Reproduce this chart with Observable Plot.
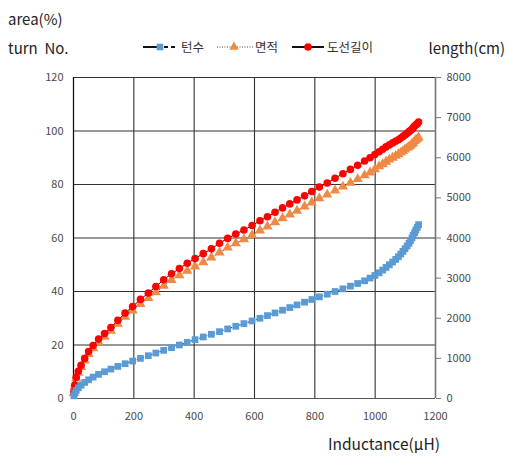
<!DOCTYPE html>
<html><head><meta charset="utf-8">
<script src="https://cdn.jsdelivr.net/npm/d3@7"></script>
<script src="https://cdn.jsdelivr.net/npm/@observablehq/plot@0.6"></script>
<style>
body{margin:0;background:#fff;}
#wrap{position:relative;width:509px;height:457px;overflow:hidden;background:#fff}
#wrap svg{position:absolute;left:0;top:0}
</style></head><body>
<div id="wrap"></div>
<script>
// ---- data ----
const turns = [1,2,3,4,5,6,7,8,9,10,11,12,13,14,15,16,17,18,19,20,21,22,23,24,25,26,27,28,29,30,31,32,33,34,35,36,37,38,39,40,41,42,43,44,45,46,47,48,49,50,51,52,53,54,55,56,57,58,59,60,61,62,63,64,65];
const inductance = [1,4,9,16,25,37,50,65,83,103,124,147,171,196,222,248,273,299,325,351,377,403,430,457,484,511,538,565,592,618,643,668,693,717,741,766,790,815,841,867,893,918,942,965,983,999,1013,1025,1036,1047,1058,1068,1077,1085,1092,1099,1106,1112,1117,1122,1126,1131,1135,1140,1144];
const areaPct = [2.0,4.6,7.5,9.6,11.8,14.2,16.6,18.8,21.1,23.1,25.3,27.9,30.5,32.9,35.3,37.6,39.7,42.1,44.3,46.1,47.7,49.3,50.9,52.7,54.6,56.4,58,59.5,61.1,62.8,64.3,65.9,67.4,68.8,70.2,71.8,73.3,74.8,76.2,77.7,79.2,80.6,82,83.4,84.5,85.7,86.8,87.6,88.5,89.3,90,90.7,91.3,91.9,92.5,93.1,93.7,94.1,94.6,95.1,95.6,96.2,96.7,97.1,97.6];
const lengthCm = [170,330,530,680,830,1000,1170,1320,1480,1620,1770,1950,2130,2290,2470,2630,2790,2960,3110,3240,3370,3490,3610,3730,3870,3990,4100,4200,4310,4430,4530,4640,4750,4850,4950,5050,5160,5270,5370,5490,5600,5710,5810,5920,6000,6080,6150,6210,6270,6320,6370,6410,6450,6490,6530,6570,6610,6650,6680,6710,6750,6790,6820,6850,6890];

const xTicks = [0,200,400,600,800,1000,1200];
const yTicksLeft = [0,20,40,60,80,100,120];
const yTicksRight = [0,1000,2000,3000,4000,5000,6000,7000,8000];
const seriesNames = ["턴수","면적","도선길이"];
const leftMax = 120, rightMax = 8000;

const rows = turns.map((t,i)=>({L:inductance[i], turn:t, area:areaPct[i], len:lengthCm[i]}));
const toLeft = v => v*leftMax/rightMax;

const FONT = '"Noto Sans CJK KR","Noto Sans",sans-serif';
const C_BLUE="#5B9BD5", C_ORANGE="#EF8A45", C_RED="#FF0000";

const plot = Plot.plot({
  width:509, height:457,
  marginLeft:73, marginRight:74, marginTop:77, marginBottom:59,
  style:{fontFamily:FONT, fontSize:"11px", color:"#595959", background:"#fff"},
  x:{domain:[0,1200]},
  y:{domain:[0,leftMax]},
  marks:[
    Plot.gridX(xTicks,{stroke:"#333",strokeOpacity:1,strokeWidth:1.1}),
    Plot.gridY(yTicksLeft,{stroke:"#333",strokeOpacity:1,strokeWidth:1.1}),
    Plot.ruleX([1200],{stroke:"#777",strokeWidth:1.5}),
    Plot.ruleX([0],{stroke:"#111",strokeWidth:1.2}),
    Plot.ruleY([0],{stroke:"#555",strokeWidth:1.2}),
    Plot.axisX(xTicks,{tickSize:0,tickPadding:14,label:null,fill:"#4a4a4a",fontSize:11,tickFormat:d=>String(d)}),
    Plot.axisY(yTicksLeft,{anchor:"left",tickSize:0,tickPadding:10,label:null,fill:"#4a4a4a",fontSize:11,tickFormat:d=>String(d)}),
    Plot.axisY(yTicksRight.map(toLeft),{anchor:"right",tickSize:5,tickPadding:6,stroke:"#777",label:null,fill:"#4a4a4a",fontSize:11,
      tickFormat:d=>String(Math.round(d*rightMax/leftMax))}),
    // 면적 (area %)
    Plot.line(rows,{x:"L",y:"area",stroke:"#333",strokeWidth:1,strokeDasharray:"1,2"}),
    Plot.dot(rows,{x:"L",y:"area",symbol:"triangle",r:3.8,fill:C_ORANGE,stroke:"none"}),
    // 도선길이 (length cm, right axis)
    Plot.line(rows,{x:"L",y:d=>toLeft(d.len),stroke:"#111",strokeWidth:1}),
    Plot.dot(rows,{x:"L",y:d=>toLeft(d.len),symbol:"circle",r:3.8,fill:C_RED,stroke:"none"}),
    // 턴수 (turn No.)
    Plot.line(rows,{x:"L",y:"turn",stroke:"#222",strokeWidth:1,strokeDasharray:"1,2"}),
    Plot.dot(rows,{x:"L",y:"turn",symbol:"square",r:3.8,fill:C_BLUE,stroke:"none"})
  ]
});
const wrap = document.getElementById("wrap");
wrap.appendChild(plot);

// titles & legend overlay
const ov = d3.select(wrap).append("svg").attr("width",509).attr("height",457)
  .style("font-family",FONT).style("pointer-events","none");
const T = (x,y,s,size,anchor="start")=>ov.append("text").attr("x",x).attr("y",y).attr("font-size",size)
  .attr("fill","#222").attr("text-anchor",anchor).style("white-space","pre").text(s);
T(8,25,"area(%)",15);
T(8,54,"turn  No.",15);
T(505,54,"length(cm)",15,"end");
T(440,450,"Inductance(\u00b5H)",15.5,"end");

// legend
const ly = 47;
const lg = ov.append("g");
// 턴수
lg.append("line").attr("x1",143).attr("x2",157).attr("y1",ly).attr("y2",ly).attr("stroke","#111").attr("stroke-width",2);
lg.append("line").attr("x1",164).attr("x2",176).attr("y1",ly).attr("y2",ly).attr("stroke","#111").attr("stroke-width",2).attr("stroke-dasharray","4,3");
lg.append("path").attr("d",d3.symbol(d3.symbolSquare,44)()).attr("transform",`translate(160,${ly})`).attr("fill",C_BLUE);
lg.append("text").attr("x",181).attr("y",ly+4.5).attr("font-size",12.5).attr("fill","#333").text(seriesNames[0]);
// 면적
lg.append("line").attr("x1",217).attr("x2",253).attr("y1",ly).attr("y2",ly).attr("stroke","#888").attr("stroke-width",1.5).attr("stroke-dasharray","1,1.5");
lg.append("path").attr("d",d3.symbol(d3.symbolTriangle,38)()).attr("transform",`translate(234,${ly})`).attr("fill",C_ORANGE);
lg.append("text").attr("x",255).attr("y",ly+4.5).attr("font-size",12.5).attr("fill","#333").text(seriesNames[1]);
// 도선길이
lg.append("line").attr("x1",292).attr("x2",324).attr("y1",ly).attr("y2",ly).attr("stroke","#111").attr("stroke-width",2);
lg.append("circle").attr("cx",308).attr("cy",ly).attr("r",3.8).attr("fill",C_RED);
lg.append("text").attr("x",327).attr("y",ly+4.5).attr("font-size",12.5).attr("fill","#333").text(seriesNames[2]);
</script>
</body></html>
